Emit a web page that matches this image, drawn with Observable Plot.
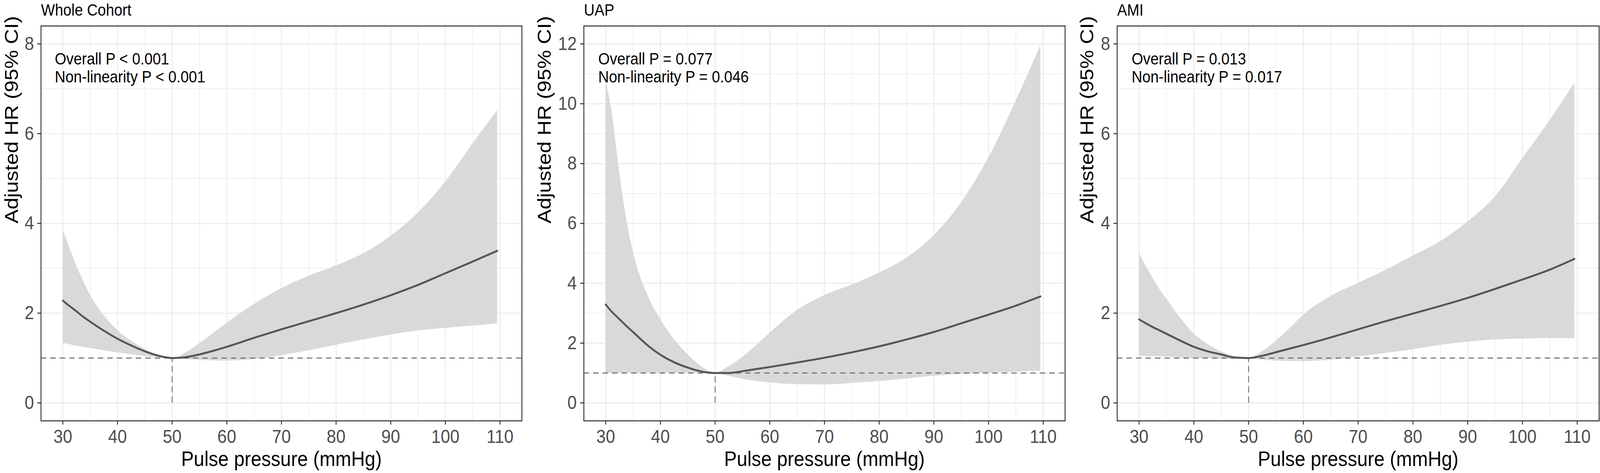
<!DOCTYPE html>
<html>
<head>
<meta charset="utf-8">
<script src="https://cdn.jsdelivr.net/npm/d3@7"></script>
<script src="https://cdn.jsdelivr.net/npm/@observablehq/plot@0.6"></script>
<style>
  html, body { margin: 0; padding: 0; background: #ffffff; width: 100%; height: 100%; overflow: hidden; }
  #chart { display: block; width: 100vw; height: 100vh; background: #ffffff; }
  g[aria-label="x-axis tick label"] text, g[aria-label="y-axis tick label"] text { fill: #4D4D4D; }
</style>
</head>
<body>
<script>
// ---------------- data ----------------
const panelTitles = ["Whole Cohort", "UAP", "AMI"];
const overallP = ["Overall P < 0.001", "Overall P = 0.077", "Overall P = 0.013"];
const nonlinP = ["Non-linearity P < 0.001", "Non-linearity P = 0.046", "Non-linearity P = 0.017"];
const xTitle = "Pulse pressure (mmHg)";
const yTitle = "Adjusted HR (95% CI)";

const ppX = [30, 31, 32.5, 33.5, 35, 37.5, 40, 42.5, 45, 47.5, 50, 52.5, 55, 57.5, 60, 65, 70, 75, 80, 85, 90, 95, 100, 105, 109.5];

const wholeHR    = [2.28, 2.18, 2.04, 1.94, 1.81, 1.61, 1.43, 1.28, 1.15, 1.05, 1.00, 1.02, 1.08, 1.16, 1.25, 1.45, 1.64, 1.82, 2.00, 2.19, 2.40, 2.63, 2.89, 3.15, 3.39];
const wholeLower = [1.33, 1.31, 1.27, 1.25, 1.22, 1.17, 1.12, 1.08, 1.04, 1.01, 1.00, 0.97, 0.955, 0.945, 0.94, 0.97, 1.06, 1.17, 1.29, 1.41, 1.52, 1.61, 1.67, 1.72, 1.77];
const wholeUpper = [3.86, 3.53, 3.05, 2.78, 2.40, 1.95, 1.62, 1.38, 1.20, 1.07, 1.00, 1.12, 1.33, 1.55, 1.78, 2.20, 2.55, 2.83, 3.06, 3.33, 3.72, 4.24, 4.93, 5.78, 6.52];

const uapHR    = [3.29, 3.07, 2.80, 2.62, 2.37, 1.95, 1.61, 1.36, 1.18, 1.05, 1.00, 1.00, 1.06, 1.13, 1.20, 1.35, 1.51, 1.69, 1.89, 2.12, 2.37, 2.66, 2.95, 3.25, 3.56];
const uapLower = [1.00, 1.00, 1.00, 1.00, 1.00, 1.00, 1.00, 1.00, 1.00, 1.00, 1.00, 0.90, 0.80, 0.73, 0.68, 0.62, 0.61, 0.66, 0.73, 0.81, 0.90, 0.96, 1.00, 1.04, 1.07];
const uapUpper = [10.76, 9.86, 7.72, 6.44, 5.05, 3.67, 2.79, 2.13, 1.62, 1.22, 1.00, 1.22, 1.53, 1.92, 2.34, 3.10, 3.60, 3.95, 4.35, 4.85, 5.60, 6.70, 8.20, 10.1, 11.95];

const amiHR    = [1.86, 1.79, 1.69, 1.63, 1.54, 1.39, 1.25, 1.15, 1.08, 1.01, 1.00, 1.05, 1.13, 1.21, 1.29, 1.46, 1.64, 1.82, 1.99, 2.16, 2.34, 2.54, 2.75, 2.97, 3.21];
const amiLower = [1.045, 1.04, 1.035, 1.03, 1.03, 1.01, 1.00, 0.99, 0.98, 0.98, 1.00, 0.96, 0.94, 0.93, 0.93, 0.96, 1.03, 1.11, 1.19, 1.29, 1.36, 1.41, 1.43, 1.44, 1.44];
const amiUpper = [3.34, 3.10, 2.78, 2.58, 2.32, 1.90, 1.54, 1.31, 1.14, 1.04, 1.00, 1.15, 1.38, 1.66, 1.96, 2.38, 2.67, 2.96, 3.28, 3.60, 4.04, 4.60, 5.45, 6.30, 7.13];

const xTicks = [30, 40, 50, 60, 70, 80, 90, 100, 110];
const xMinor = [35, 45, 55, 65, 75, 85, 95, 105];
const yTicks8 = [0, 2, 4, 6, 8];
const yMinor8 = [1, 3, 5, 7];
const yTicks12 = [0, 2, 4, 6, 8, 10, 12];
const yMinor12 = [1, 3, 5, 7, 9, 11];
const refX = [50];
const refY = [1];

// ---------------- drawing ----------------
const W = 4545, H = 1211;
const FONT = "'Liberation Sans', Arial, Helvetica, sans-serif";
const panels = [
  {hr: wholeHR, lo: wholeLower, hi: wholeUpper, yDomain: [-0.4, 8.4], yTicks: yTicks8, yMinor: yMinor8,
   left: 0, mL: 116, mR: 33, yTitleDx: -66, annotDx: 39},
  {hr: uapHR, lo: uapLower, hi: uapUpper, yDomain: [-0.6, 12.6], yTicks: yTicks12, yMinor: yMinor12,
   left: 1515, mL: 143, mR: 5, yTitleDx: -94, annotDx: 41},
  {hr: amiHR, lo: amiLower, hi: amiUpper, yDomain: [-0.4, 8.4], yTicks: yTicks8, yMinor: yMinor8,
   left: 3030, mL: 143, mR: 3, yTitleDx: -68, annotDx: 41}
];

const NS = "http://www.w3.org/2000/svg";
const outer = document.createElementNS(NS, "svg");
outer.setAttribute("id", "chart");
outer.setAttribute("width", W);
outer.setAttribute("height", H);
outer.setAttribute("viewBox", `0 0 ${W} ${H}`);
outer.setAttribute("preserveAspectRatio", "none");
const bg = document.createElementNS(NS, "rect");
bg.setAttribute("width", W); bg.setAttribute("height", H); bg.setAttribute("fill", "#ffffff");
outer.appendChild(bg);

panels.forEach((p, i) => {
  const rows = ppX.map((x, k) => ({x, hr: p.hr[k], lo: p.lo[k], hi: p.hi[k]}));
  const refRows = refX.map((x, k) => ({x, y: refY[k]}));
  const svg = Plot.plot({
    width: 1515,
    height: H,
    marginLeft: p.mL,
    marginRight: p.mR,
    marginTop: 66,
    marginBottom: 134,
    style: {fontFamily: FONT, background: "#ffffff", overflow: "visible"},
    x: {domain: [26, 114], label: null},
    y: {domain: p.yDomain, label: null},
    marks: [
      Plot.gridX(xMinor, {stroke: "#EBEBEB", strokeOpacity: 1, strokeWidth: 1.6}),
      Plot.gridY(p.yMinor, {stroke: "#EBEBEB", strokeOpacity: 1, strokeWidth: 1.6}),
      Plot.gridX(xTicks, {stroke: "#EBEBEB", strokeOpacity: 1, strokeWidth: 2.7}),
      Plot.gridY(p.yTicks, {stroke: "#EBEBEB", strokeOpacity: 1, strokeWidth: 2.7}),
      Plot.areaY(rows, {x: "x", y1: "lo", y2: "hi", fill: "#D9D9D9", fillOpacity: 1, curve: "monotone-x"}),
      Plot.ruleY(refRows, {y: "y", stroke: "#666666", strokeWidth: 2.5, strokeDasharray: "15,12"}),
      Plot.ruleX(refRows, {x: "x", y1: 0, y2: "y", stroke: "#555555", strokeWidth: 2, strokeDasharray: "16,10"}),
      Plot.line(rows, {x: "x", y: "hr", stroke: "#555555", strokeWidth: 5, curve: "monotone-x"}),
      Plot.frame({stroke: "#333333", strokeWidth: 2.6}),
      Plot.axisX(xTicks, {tickSize: 10, tickPadding: 12, fontSize: 48, stroke: "#333333", strokeWidth: 2.6, fill: "#4D4D4D", label: null, tickFormat: d => String(d)}),
      Plot.axisY(p.yTicks, {tickSize: 10, tickPadding: 10, fontSize: 48, stroke: "#333333", strokeWidth: 2.6, fill: "#4D4D4D", label: null, tickFormat: d => String(d)}),
      Plot.text([panelTitles[i]], {frameAnchor: "top-left", dy: -27, textAnchor: "start", lineAnchor: "bottom", fontSize: 42, fill: "#000000"}),
      Plot.text([overallP[i]], {frameAnchor: "top-left", dx: p.annotDx, dy: 98, textAnchor: "start", lineAnchor: "bottom", fontSize: 42, fill: "#000000", ariaLabel: "annot"}),
      Plot.text([nonlinP[i]], {frameAnchor: "top-left", dx: p.annotDx, dy: 144, textAnchor: "start", lineAnchor: "bottom", fontSize: 42, fill: "#000000", ariaLabel: "annot"}),
      Plot.text([xTitle], {frameAnchor: "bottom", dy: 115, lineAnchor: "bottom", fontSize: 54, fill: "#000000"}),
      Plot.text([yTitle], {frameAnchor: "left", dx: p.yTitleDx, rotate: -90, lineAnchor: "bottom", fontSize: 54, fill: "#000000"})
    ]
  });
  // italic P in the annotation lines
  svg.querySelectorAll('g[aria-label="annot"] text').forEach(t => {
    const s = t.textContent;
    const m = s.match(/^(.*?)P( .*)$/);
    if (!m) return;
    t.textContent = "";
    t.appendChild(document.createTextNode(m[1]));
    const ts = document.createElementNS(NS, "tspan");
    ts.setAttribute("font-style", "italic");
    ts.textContent = "P";
    t.appendChild(ts);
    t.appendChild(document.createTextNode(m[2]));
  });
  svg.setAttribute("x", p.left);
  svg.setAttribute("y", 0);
  svg.style.maxWidth = "none";
  svg.style.width = "1515px";
  svg.style.height = H + "px";
  outer.appendChild(svg);
});
document.body.appendChild(outer);
</script>
</body>
</html>
